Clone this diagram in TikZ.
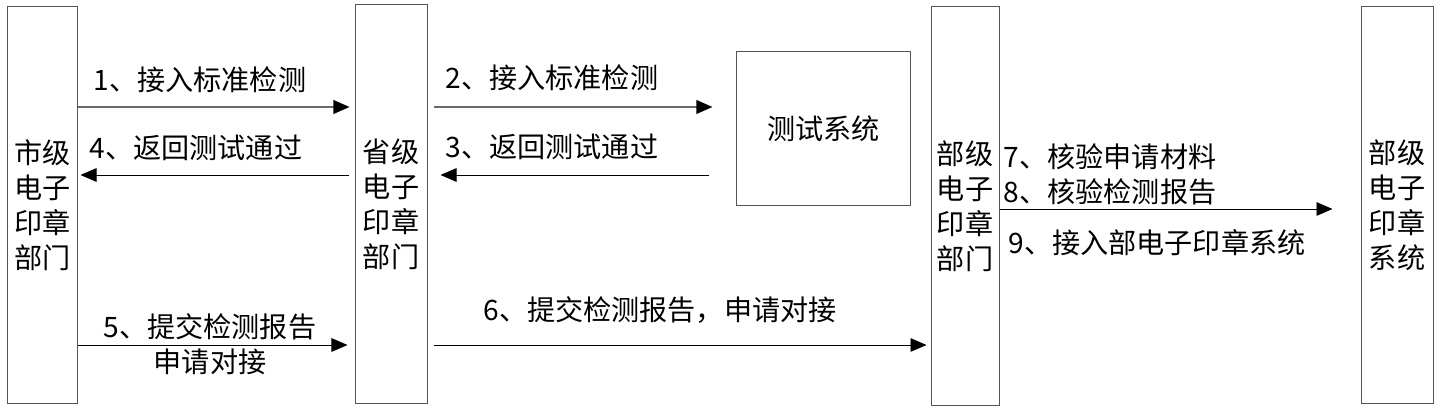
\documentclass[tikz,border=0pt]{standalone}
\usepackage{fontspec}
\setmainfont{Noto Sans CJK SC}
\usetikzlibrary{arrows.meta,positioning}
\definecolor{boxgray}{RGB}{85,85,85}
\definecolor{arrgray}{RGB}{105,105,105}

\begin{document}
\begin{tikzpicture}[x=0.025cm, y=-0.025cm,
    every node/.style={font=\fontsize{20}{24.8}\selectfont, inner sep=0pt},
    unit/.style={draw=boxgray, line width=0.7pt, minimum width=1.75cm, minimum height=9.9cm, align=center},
    sysbox/.style={draw=boxgray, line width=0.7pt, minimum width=4.325cm, minimum height=3.825cm},
    msg/.style={line width=0.7pt, -{Triangle[length=0.4cm,width=0.34cm,color=black]}},
    msgthick/.style={msg, draw=arrgray, line width=1.2pt}]
    \useasboundingbox (0,0) rectangle (1440,411);

    % departments and systems
    \node[unit, minimum width=1.725cm] (city) at (42.5,205) {市级\\电子\\印章\\部门};
    \node[unit, minimum width=1.8cm, minimum height=9.95cm] (prov) at (391,204) {省级\\电子\\印章\\部门};
    \node[sysbox] (test) at (823.5,128.5) {测试系统};
    \node[unit, minimum width=1.7cm, minimum height=9.95cm] (mindept) at (965,206) {部级\\电子\\印章\\部门};
    \node[unit, minimum width=1.8cm] (minsys) at (1397,205) {部级\\电子\\印章\\系统};

    % message rows
    \coordinate (r1) at (0,107);
    \coordinate (r4) at (0,175);
    \coordinate (r5) at (0,345);
    \coordinate (r9) at (0,209);

    \draw[msgthick, shorten >=0.125cm] (city.east |- r1) -- (prov.west |- r1);
    \draw[msg, shorten <=0.15cm, shorten >=0.075cm] (prov.west |- r4) -- (city.east |- r4);
    \draw[msg, shorten >=0.175cm] (city.east |- r5) -- (prov.west |- r5);
    \draw[msgthick, shorten <=0.15cm, shorten >=0.6cm] (prov.east |- r1) -- (test.west |- r1);
    \draw[msg, shorten <=0.675cm, shorten >=0.325cm] (test.west |- r4) -- (prov.east |- r4);
    \draw[msg, shorten <=0.15cm, shorten >=0.1cm] (prov.east |- r5) -- (mindept.west |- r5);
    \draw[msg, shorten >=0.7cm] (mindept.east |- r9) -- (minsys.west |- r9);

    % labels
    \node (l1) at (200,80) {1、接入标准检测};
    \node (l4) at (196,148) {4、返回测试通过};
    \node[align=center] (l5) at (210,344.5) {5、提交检测报告\\申请对接};
    \node (l2) at (552,78) {2、接入标准检测};
    \node (l3) at (552,147) {3、返回测试通过};
    \node (l6) at (660,310) {6、提交检测报告，申请对接};
    \node[align=left] (l78) at (1110,174.5) {7、核验申请材料\\8、核验检测报告};
    \node (l9) at (1157,243) {9、接入部电子印章系统};
\end{tikzpicture}
\end{document}
